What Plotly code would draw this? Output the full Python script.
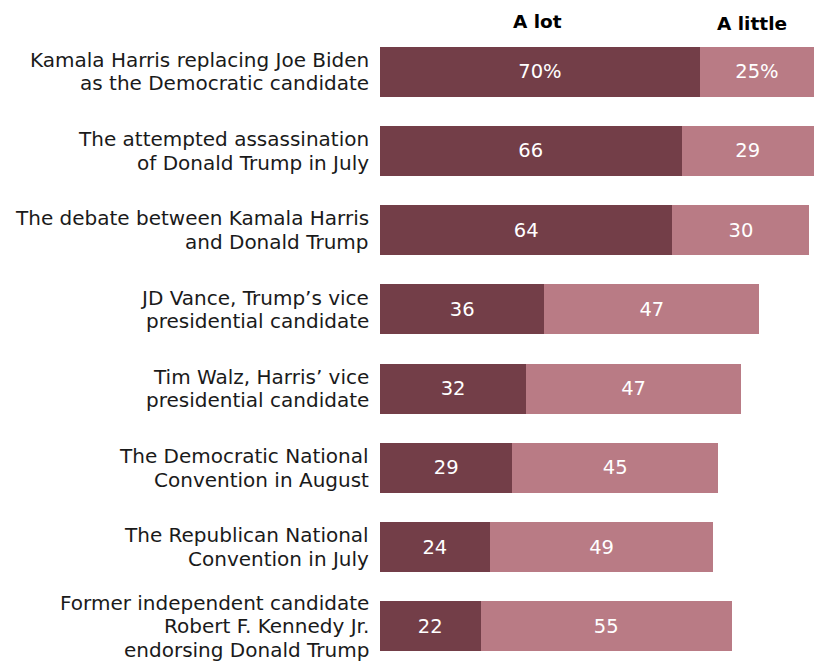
import plotly.graph_objects as go

categories = [
    "Kamala Harris replacing Joe Biden<br>as the Democratic candidate",
    "The attempted assassination<br>of Donald Trump in July",
    "The debate between Kamala Harris<br>and Donald Trump",
    "JD Vance, Trump’s vice<br>presidential candidate",
    "Tim Walz, Harris’ vice<br>presidential candidate",
    "The Democratic National<br>Convention in August",
    "The Republican National<br>Convention in July",
    "Former independent candidate<br>Robert F. Kennedy Jr.<br>endorsing Donald Trump",
]
a_lot = [70, 66, 64, 36, 32, 29, 24, 22]
a_little = [25, 29, 30, 47, 47, 45, 49, 55]
series_names = ["A lot", "A little"]

dark = "#733e48"
light = "#b97b85"
FONT = "DejaVu Sans"

lot_text = [f"{v}%" if i == 0 else str(v) for i, v in enumerate(a_lot)]
little_text = [f"{v}%" if i == 0 else str(v) for i, v in enumerate(a_little)]

fig = go.Figure()
for vals, txt, col, nm in [(a_lot, lot_text, dark, series_names[0]),
                           (a_little, little_text, light, series_names[1])]:
    fig.add_trace(go.Bar(
        y=categories, x=vals, orientation="h", name=nm,
        marker=dict(color=col, line=dict(width=0)),
        text=txt, textposition="inside", insidetextanchor="middle",
        textangle=0,
        textfont=dict(color="white", size=19.5, family=FONT),
        hoverinfo="skip",
    ))

annotations = []
# category labels, one annotation per line so line spacing can be controlled
line_gap = 23.6
for cat in categories:
    lines = cat.split("<br>")
    n = len(lines)
    for j, ln in enumerate(lines):
        annotations.append(dict(
            x=0, xref="paper", y=cat, yref="y",
            xanchor="right", yanchor="middle", xshift=-10,
            yshift=((n - 1) / 2 - j) * line_gap,
            text=ln, showarrow=False, borderpad=0,
            font=dict(size=20, color="#1a1a1a", family=FONT),
        ))

# column headers
annotations.append(dict(x=34.5, y=1, xref="x", yref="paper", yshift=11,
                        yanchor="middle", text="<b>A lot</b>", showarrow=False,
                        font=dict(size=18.5, color="black", family=FONT)))
annotations.append(dict(x=81.5, y=1, xref="x", yref="paper", yshift=9,
                        yanchor="middle", text="<b>A little</b>", showarrow=False,
                        font=dict(size=18.5, color="black", family=FONT)))

fig.update_layout(
    barmode="stack",
    bargap=0.37,
    width=814, height=666,
    margin=dict(l=380, r=0, t=32, b=0),
    plot_bgcolor="white", paper_bgcolor="white",
    showlegend=False,
    font=dict(family=FONT, size=19, color="#1a1a1a"),
    xaxis=dict(range=[0, 95], visible=False, fixedrange=True),
    yaxis=dict(autorange="reversed", showgrid=False, zeroline=False,
               showline=False, ticks="", showticklabels=False,
               fixedrange=True),
    annotations=annotations,
)

fig.write_html("out.html")
